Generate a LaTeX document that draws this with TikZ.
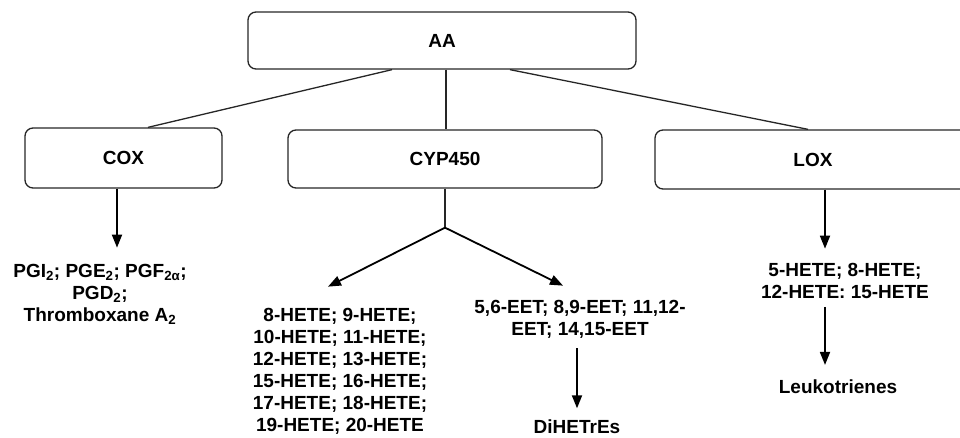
\documentclass[tikz,border=0pt]{standalone}
\usepackage{fontspec}
\setmainfont{Liberation Sans}
\usetikzlibrary{positioning,arrows.meta,calc}

\begin{document}
\begin{tikzpicture}[x=1pt, y=-1pt,
  box/.style={draw=black!85, rounded corners=8pt, line width=1.3pt,
    font=\fontsize{19}{22}\selectfont\bfseries},
  prod/.style={align=center, inner sep=0pt,
    font=\fontsize{19}{22}\selectfont\bfseries},
  link/.style={line width=1.3pt, black!85},
  arr/.style={-{Triangle[length=13pt,width=10pt]}, line width=1.8pt},
]
\useasboundingbox (0,0) rectangle (960,437);
% enzymes
\node[box, minimum width=388pt, minimum height=57pt] (aa) at (442,40.5) {AA};
\node[box, minimum width=197pt, minimum height=60pt] (cox) at (123.5,158) {COX};
\node[box, minimum width=314pt, minimum height=58pt] (cyp) at (445,159) {CYP450};
\node[box, minimum width=316pt, minimum height=59pt] (lox) at (813,159.5) {LOX};
% products
\node[prod] (coxprod) at (100,294.5) {PGI\textsubscript{2}; PGE\textsubscript{2}; PGF\textsubscript{2α};\\
  PGD\textsubscript{2};\\ Thromboxane A\textsubscript{2}};
\node[prod] (hete) at (340,371) {8-HETE; 9-HETE;\\ 10-HETE; 11-HETE;\\ 12-HETE; 13-HETE;\\
  15-HETE; 16-HETE;\\ 17-HETE; 18-HETE;\\ 19-HETE; 20-HETE};
\node[prod] (eet) at (580,319) {5,6-EET; 8,9-EET; 11,12-\\ EET; 14,15-EET};
\node[prod] (dihetres) at (577,427) {DiHETrEs};
\node[prod] (loxprod) at (845,281) {5-HETE; 8-HETE;\\ 12-HETE: 15-HETE};
\node[prod] (leuko) at (838,387) {Leukotrienes};
% AA to enzymes
\draw[link] ([xshift=-50pt]aa.south) -- ([xshift=24.5pt]cox.north);
\draw[link] ([xshift=4pt]aa.south) -- ([xshift=1pt]cyp.north);
\draw[link] ([xshift=68pt]aa.south) -- ([xshift=-5pt]lox.north);
% CYP450 branches
\coordinate (split) at ($(cyp.south)+(0,39)$);
\draw[link] (cyp.south) -- (split);
\draw[arr] (split) -- ($(split)+(-117,59)$);
\draw[arr] (split) -- ($(split)+(118,58)$);
\draw[arr] ([xshift=-3pt]eet.south) ++(0,10) -- ++(0,60);
% COX and LOX
\draw[arr] ([xshift=-6.5pt]cox.south) -- ++(0,59);
\draw[arr] ([xshift=12pt]lox.south) -- ++(0,59);
\draw[arr] ([xshift=-20pt]loxprod.south) ++(0,8) -- ++(0,58);
\end{tikzpicture}
\end{document}
